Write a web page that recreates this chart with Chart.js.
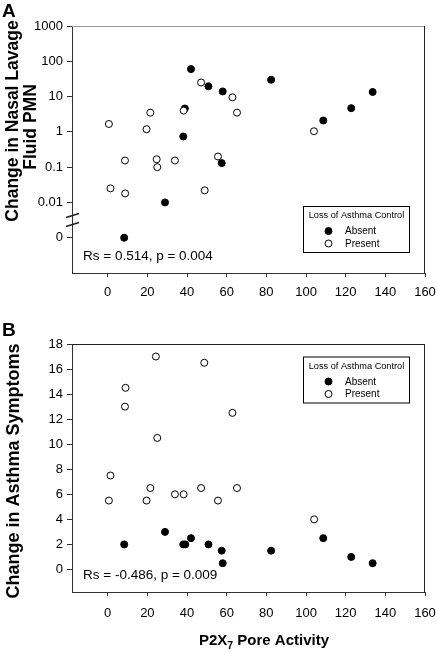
<!DOCTYPE html>
<html>
<head>
<meta charset="utf-8">
<script src="https://cdn.jsdelivr.net/npm/chart.js@4.4.1/dist/chart.umd.min.js"></script>
<style>
  html, body { margin: 0; padding: 0; background: #fff; }
  #wrap { position: relative; width: 438px; height: 653px; }
  #wrap canvas { position: absolute; left: 0; }
</style>
</head>
<body>
<div id="wrap">
  <canvas id="chartA" width="438" height="320" style="top:0"></canvas>
  <canvas id="chartB" width="438" height="333" style="top:320px"></canvas>
</div>
<script>
const FONT = "'Liberation Sans', Arial, sans-serif";

const xTicks = [0, 20, 40, 60, 80, 100, 120, 140, 160];

// Panel A: log axis, "0" sits on the 0.001 decade below the axis break
const pmnTickValues = [0.001, 0.01, 0.1, 1, 10, 100, 1000];
const pmnTickLabels = ['0', '0.01', '0.1', '1', '10', '100', '1000'];

const pmnAbsentX = [8.3, 28.9, 38.1, 38.9, 42, 50.8, 57.5, 58, 82.4, 108.7, 122.8, 133.6];
const pmnAbsentY = [0.001, 0.01, 0.74, 4.6, 60, 19.6, 0.13, 14, 30, 2.1, 4.7, 13.5];
const pmnPresentX = [0.6, 1.4, 8.7, 8.8, 19.6, 21.5, 24.7, 25, 33.9, 38.3, 47.1, 48.9, 55.6, 62.9, 65.2, 104];
const pmnPresentY = [1.67, 0.025, 0.154, 0.018, 1.19, 3.5, 0.167, 0.1, 0.154, 4.0, 25, 0.022, 0.2, 9.5, 3.5, 1.04];

// Panel B: asthma symptoms
const symTicks = [0, 2, 4, 6, 8, 10, 12, 14, 16, 18];
const symAbsentX = [8.3, 28.9, 38.1, 39.1, 42, 50.8, 57.5, 58, 82.4, 108.7, 122.8, 133.6];
const symAbsentY = [2, 3, 2, 2, 2.5, 2, 1.5, 0.5, 1.5, 2.5, 1, 0.5];
const symPresentX = [0.6, 1.4, 8.7, 9.0, 19.6, 21.5, 24.3, 25, 33.9, 38.3, 47.1, 48.7, 55.6, 62.9, 65.2, 104.1];
const symPresentY = [5.5, 7.5, 13, 14.5, 5.5, 6.5, 17, 10.5, 6, 6, 6.5, 16.5, 5.5, 12.5, 6.5, 4];

const legendTitle = 'Loss of Asthma Control';
const legendLabels = ['Absent', 'Present'];

function toPoints(xs, ys) {
    return xs.map((x, i) => ({ x: x, y: ys[i] }));
}

// panel letter, axis titles, stats text, legend box, frame
function decorPlugin(cfg) {
    return {
        id: 'decor',
        afterDraw(chart) {
            const ctx = chart.ctx;
            const a = chart.chartArea;
            ctx.save();

            // top and right edges of the box
            ctx.lineWidth = 1;
            ctx.strokeStyle = cfg.topColor;
            ctx.beginPath();
            ctx.moveTo(a.left, a.top + 0.5);
            ctx.lineTo(a.right, a.top + 0.5);
            ctx.stroke();
            ctx.strokeStyle = '#222';
            ctx.beginPath();
            ctx.moveTo(a.right - 0.5, a.top);
            ctx.lineTo(a.right - 0.5, a.bottom);
            ctx.stroke();

            ctx.fillStyle = '#000';
            ctx.textAlign = 'left';
            ctx.textBaseline = 'alphabetic';
            ctx.font = 'bold 19px ' + FONT;
            ctx.fillText(cfg.letter, 2, cfg.letterY);

            // y title (rotated)
            ctx.font = 'bold ' + cfg.yTitleSize + 'px ' + FONT;
            ctx.textAlign = 'center';
            cfg.yTitle.forEach(line => {
                ctx.save();
                ctx.translate(line.x, line.cy);
                ctx.rotate(-Math.PI / 2);
                ctx.fillText(line.text, 0, 0);
                ctx.restore();
            });

            // stats
            ctx.font = '13.5px ' + FONT;
            ctx.textAlign = 'left';
            ctx.textBaseline = 'middle';
            ctx.fillText(cfg.stats, a.left + 11, a.bottom - 17);

            // legend box
            const lw = 107, lh = 47;
            const lx = a.right - 15 - lw;
            const ly = cfg.legendTop(a, lh);
            ctx.fillStyle = '#fff';
            ctx.fillRect(lx, ly, lw, lh);
            ctx.strokeStyle = '#000';
            ctx.strokeRect(lx + 0.5, ly + 0.5, lw - 1, lh - 1);
            ctx.fillStyle = '#000';
            ctx.font = '9.2px ' + FONT;
            ctx.textAlign = 'center';
            ctx.fillText(legendTitle, lx + lw / 2, ly + 9.5);
            ctx.font = '10px ' + FONT;
            ctx.textAlign = 'left';
            const dsets = [chart.data.datasets[1], chart.data.datasets[0]];
            legendLabels.forEach((lab, i) => {
                const yy = ly + 25 + i * 12.5;
                const ds = dsets[i];
                ctx.beginPath();
                ctx.arc(lx + 25.5, yy, 3.5, 0, Math.PI * 2);
                ctx.fillStyle = ds.backgroundColor;
                ctx.fill();
                ctx.strokeStyle = ds.borderColor;
                ctx.stroke();
                ctx.fillStyle = '#000';
                ctx.fillText(lab, lx + 42, yy + 0.5);
            });

            if (cfg.extra) cfg.extra(chart, ctx);
            ctx.restore();
        }
    };
}

function makeChart(id, yScale, absent, present, padding, xLabelPad, cfg) {
    return new Chart(document.getElementById(id), {
        type: 'scatter',
        data: {
            datasets: [
                { label: 'Present', data: present, order: 0, backgroundColor: '#fff', borderColor: '#000',
                  borderWidth: 1, pointRadius: 3.5, pointHoverRadius: 3.5 },
                { label: 'Absent', data: absent, order: 1, backgroundColor: '#000', borderColor: '#000',
                  borderWidth: 1, pointRadius: 3.5, pointHoverRadius: 3.5 }
            ]
        },
        options: {
            responsive: false,
            animation: false,
            layout: { padding: padding },
            plugins: { legend: { display: false }, tooltip: { enabled: false } },
            scales: {
                x: {
                    type: 'linear', min: -18, max: 160,
                    afterBuildTicks: s => { s.ticks = xTicks.map(v => ({ value: v })); },
                    afterFit: s => { s.height = 30; s.paddingLeft = 0; s.paddingRight = 0; },
                    grid: { drawOnChartArea: false, drawTicks: true, tickLength: 4, color: '#333' },
                    border: { color: '#333' },
                    ticks: { font: { family: FONT, size: 13 }, color: '#000', padding: xLabelPad, maxRotation: 0, autoSkip: false }
                },
                y: yScale
            }
        },
        plugins: [decorPlugin(cfg)]
    });
}

const yAxisBase = {
    afterFit: s => { s.width = 72; s.paddingTop = 0; s.paddingBottom = 0; },
    grid: { drawOnChartArea: false, drawTicks: true, tickLength: 5, color: '#333' },
    border: { color: '#333' }
};

makeChart('chartA',
    Object.assign({}, yAxisBase, {
        type: 'logarithmic', min: 0.0001, max: 1000,
        afterBuildTicks: s => { s.ticks = pmnTickValues.map(v => ({ value: v })); },
        ticks: { font: { family: FONT, size: 13 }, color: '#000', padding: 4, autoSkip: false,
                 callback: (v, i) => pmnTickLabels[i] }
    }),
    toPoints(pmnAbsentX, pmnAbsentY), toPoints(pmnPresentX, pmnPresentY),
    { top: 26, right: 13, bottom: 17, left: 0 }, 8,
    {
        letter: 'A', letterY: 17, topColor: '#9a9a9a', yTitleSize: 17.5,
        yTitle: [
            { text: 'Change in Nasal Lavage', x: 18, cy: 121 },
            { text: 'Fluid PMN', x: 36, cy: 127 }
        ],
        stats: 'Rs = 0.514, p = 0.004',
        legendTop: (a, lh) => a.bottom - 20 - lh,
        extra: (chart, ctx) => {
            // axis break between 0.01 and "0"
            const y = chart.scales.y;
            const mid = (y.getPixelForValue(0.01) + y.getPixelForValue(0.001)) / 2;
            const x0 = chart.chartArea.left;
            ctx.strokeStyle = '#222';
            ctx.lineWidth = 1.5;
            [-4.5, 4.5].forEach(d => {
                ctx.beginPath();
                ctx.moveTo(x0 - 6, mid + d + 2);
                ctx.lineTo(x0 + 7, mid + d - 2);
                ctx.stroke();
            });
        }
    });

makeChart('chartB',
    Object.assign({}, yAxisBase, {
        type: 'linear', min: -1.8, max: 18,
        afterBuildTicks: s => { s.ticks = symTicks.map(v => ({ value: v })); },
        ticks: { font: { family: FONT, size: 13 }, color: '#000', padding: 4, autoSkip: false }
    }),
    toPoints(symAbsentX, symAbsentY), toPoints(symPresentX, symPresentY),
    { top: 24, right: 13, bottom: 31, left: 0 }, 10,
    {
        letter: 'B', letterY: 16, topColor: '#222', yTitleSize: 18,
        yTitle: [{ text: 'Change in Asthma Symptoms', x: 18.5, cy: 151 }],
        stats: 'Rs = -0.486, p = 0.009',
        legendTop: (a) => a.top + 12.5,
        extra: (chart, ctx) => {
            // x-axis title with subscript
            const cx = 264, by = 325;
            const p1 = 'P2X', sub = '7', p2 = ' Pore Activity';
            ctx.fillStyle = '#000';
            ctx.textAlign = 'left';
            ctx.textBaseline = 'alphabetic';
            ctx.font = 'bold 15px ' + FONT;
            const w1 = ctx.measureText(p1).width, w3 = ctx.measureText(p2).width;
            ctx.font = 'bold 10.5px ' + FONT;
            const w2 = ctx.measureText(sub).width;
            let x = cx - (w1 + w2 + w3) / 2;
            ctx.font = 'bold 15px ' + FONT;
            ctx.fillText(p1, x, by);
            x += w1;
            ctx.font = 'bold 10.5px ' + FONT;
            ctx.fillText(sub, x, by + 4);
            x += w2;
            ctx.font = 'bold 15px ' + FONT;
            ctx.fillText(p2, x, by);
        }
    });
</script>
</body>
</html>
